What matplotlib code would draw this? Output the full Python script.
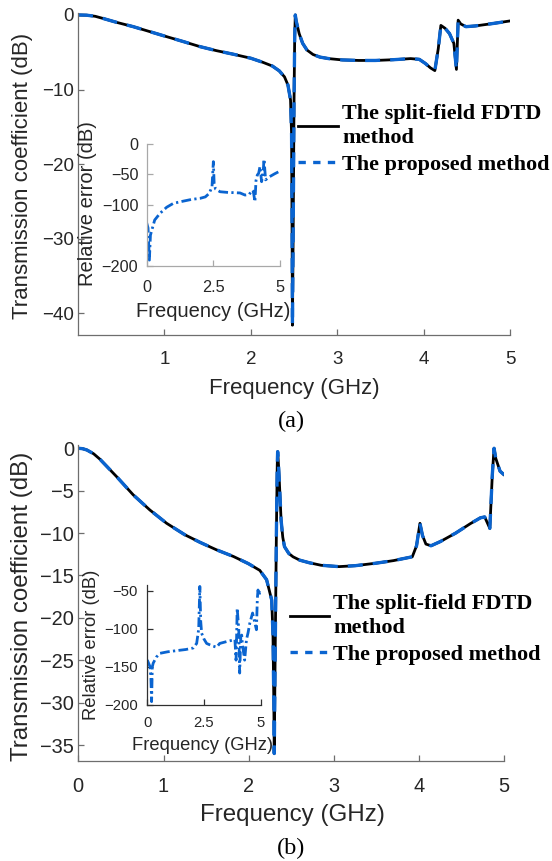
import numpy as np
import matplotlib.pyplot as plt
from matplotlib.font_manager import FontProperties

plt.rcParams['font.family'] = ['Liberation Sans', 'DejaVu Sans']

W, H = 552, 861

# ---- (a) transmission coefficient ----
freq_a = [0.0, 0.1, 0.2, 0.3, 0.45, 0.64, 0.83, 1.0, 1.22, 1.41, 1.6, 1.8, 2.0, 2.14,
          2.25, 2.33, 2.39, 2.43, 2.46, 2.472, 2.478, 2.482, 2.49, 2.5, 2.508, 2.515,
          2.525, 2.56, 2.6, 2.65, 2.72, 2.8, 2.9, 3.06, 3.25, 3.44, 3.65, 3.85, 3.95,
          4.02, 4.08, 4.13, 4.17, 4.2, 4.25, 4.3, 4.35, 4.38, 4.4, 4.43, 4.49, 4.6,
          4.8, 5.0]
fdtd_a = [0.0, -0.03, -0.18, -0.5, -1.0, -1.57, -2.23, -2.82, -3.57, -4.24, -4.78, -5.27,
          -5.8, -6.35, -6.85, -7.5, -8.3, -9.4, -11.4, -16.0, -30.0, -41.6, -30.0, -12.0,
          -3.0, 0.0, -0.8, -2.5, -3.8, -4.7, -5.3, -5.65, -5.85, -6.03, -6.1, -6.1, -6.0,
          -5.85, -5.95, -6.5, -7.1, -7.46, -4.5, -1.4, -1.8, -2.5, -3.8, -7.3, -0.7, -1.2,
          -1.57, -1.47, -1.15, -0.8]
prop_a = fdtd_a

# inset (a): relative error
err_freq_a = [0.0, 0.05, 0.1, 0.14, 0.19, 0.3, 0.5, 0.75, 1.0, 1.37, 1.7, 2.0, 2.2, 2.35,
              2.45, 2.5, 2.53, 2.58, 2.75, 3.0, 3.25, 3.5, 3.69, 3.85, 3.94, 4.0, 4.06,
              4.1, 4.15, 4.2, 4.25, 4.31, 4.37, 4.4, 4.46, 4.6, 4.8, 4.95]
err_a = [-130, -138, -191, -150, -142, -125, -114, -104, -97.6, -94, -91, -89.4, -87, -81,
         -70, -29, -65, -74, -78.5, -79.5, -80, -80.5, -84, -83, -76, -78, -95, -60, -51,
         -48, -37, -62, -45, -25, -59, -54, -49, -45.6]

# ---- (b) transmission coefficient ----
freq_b = [0.0, 0.05, 0.1, 0.18, 0.255, 0.35, 0.45, 0.645, 0.84, 1.037, 1.25, 1.43, 1.62,
          1.82, 1.995, 2.13, 2.21, 2.27, 2.285, 2.295, 2.30, 2.31, 2.325, 2.335, 2.34,
          2.35, 2.36, 2.38, 2.4, 2.42, 2.47, 2.52, 2.6, 2.71, 2.85, 3.06, 3.25, 3.49, 3.7,
          3.92, 3.97, 4.01, 4.04, 4.08, 4.14, 4.25, 4.43, 4.6, 4.72, 4.77, 4.81, 4.83,
          4.86, 4.88, 4.9, 4.92, 4.95, 5.0]
fdtd_b = [0.0, -0.05, -0.2, -0.65, -1.3, -2.3, -3.35, -5.5, -7.28, -8.85, -10.2, -11.1,
          -11.97, -12.76, -13.6, -14.4, -15.5, -17.9, -22.0, -30.0, -36.0, -25.0, -10.0,
          -2.0, -0.4, -2.0, -4.0, -8.45, -10.5, -11.6, -12.4, -12.8, -13.2, -13.5, -13.8,
          -13.96, -13.85, -13.56, -13.25, -12.8, -11.5, -8.85, -10.3, -11.3, -11.5, -11.0,
          -10.0, -8.9, -8.2, -8.1, -9.0, -9.45, -3.0, 0.0, -1.2, -1.8, -2.7, -3.15]
prop_b = fdtd_b

# inset (b): relative error
err_freq_b = [0.0, 0.12, 0.16, 0.19, 0.22, 0.26, 0.4, 0.56, 0.9, 1.29, 1.7, 2.03, 2.18, 2.27,
              2.32, 2.36, 2.4, 2.5, 2.62, 2.85, 3.06, 3.2, 3.5, 3.87, 3.92, 3.94, 3.97,
              4.04, 4.08, 4.13, 4.17, 4.2, 4.3, 4.38, 4.45, 4.53, 4.65, 4.82, 4.86, 4.89,
              4.93, 4.97, 5.0]
err_b = [-140.8, -149.6, -165, -195.6, -150, -145, -137, -132, -130, -128.5, -127, -125,
         -119, -100, -44, -90, -105.6, -113, -119, -122, -124, -119, -116.6, -114, -141,
         -118, -72.8, -100, -158, -110, -108, -120, -141, -114, -105, -92, -79, -101, -60,
         -48.7, -55, -52, -55]

labels = ['The split-field FDTD\nmethod', 'The proposed method']
blue = '#0a64d0'
txt = '#262626'


def box(x0, x1, y0, y1):
    # pixel box -> figure fraction
    return [x0 / W, 1 - y1 / H, (x1 - x0) / W, (y1 - y0) / H]


def px(x, y):
    return x / W, 1 - y / H


def style(ax, col, tsize, padx, pady):
    for s in ['top', 'right']:
        ax.spines[s].set_visible(False)
    for s in ['left', 'bottom']:
        ax.spines[s].set_color(col)
        ax.spines[s].set_linewidth(0.9)
    ax.tick_params(direction='in', length=4, width=0.9, color=col,
                   labelsize=tsize, labelcolor=txt)
    ax.tick_params(axis='x', pad=padx)
    ax.tick_params(axis='y', pad=pady)


def add_legend(ax, x, y, hl):
    # proxy handles: the legend shows a shorter dash than the curves
    h1 = plt.Line2D([], [], color='black', lw=2.0)
    h2 = plt.Line2D([], [], color=blue, lw=2.4, dashes=(2.2, 2.2))
    leg = ax.legend([h1, h2], labels, loc='upper left', bbox_to_anchor=px(x, y),
                    bbox_transform=fig.transFigure, frameon=False, prop=leg_font,
                    handlelength=hl, handletextpad=0.2, borderpad=0, borderaxespad=0,
                    labelspacing=0.28)
    for t in leg.get_texts():
        t.set_linespacing(1.28)
    return leg


fig = plt.figure(figsize=(W / 100, H / 100), dpi=100)
leg_font = FontProperties(family='Liberation Serif', weight='bold', size=16)

# ---------- panel (a) ----------
ax1 = fig.add_axes(box(78, 510, 13.1, 334.9))
ax1.plot(freq_a, fdtd_a, color='black', lw=2.0)
ax1.plot(freq_a, prop_a, color=blue, lw=2.4, dashes=(4.5, 3))
ax1.set_xlim(0, 5)
ax1.set_ylim(-42.9, 0.25)
ax1.set_xticks([1, 2, 3, 4, 5])
ax1.set_yticks([-40, -30, -20, -10, 0])
style(ax1, '#6e6e6e', 13.5, 11.5, 3)
fig.text(*px(22.5, 176), 'Transmission coefficient (dB)', rotation=90,
         ha='center', va='center', fontsize=16, color=txt)
fig.text(*px(294, 388), 'Frequency (GHz)', ha='center', va='center',
         fontsize=16, color=txt)
add_legend(ax1, 297.7, 104, 1.8)

ins1 = fig.add_axes(box(146.7, 280, 144, 265.6))
ins1.patch.set_alpha(0)
ins1.plot(err_freq_a, err_a, color=blue, lw=2.0, dashes=(3.5, 1.2, 0.8, 1.2))
ins1.set_xlim(0, 5)
ins1.set_ylim(-200, 0)
ins1.set_xticks([0, 2.5, 5])
ins1.set_xticklabels(['0', '2.5', '5'])
ins1.set_yticks([-200, -100, -50, 0])
style(ins1, '#a8a8a8', 11.7, 10.5, 6)
fig.text(*px(87.5, 204), 'Relative error (dB)', rotation=90,
         ha='center', va='center', fontsize=14.5, color=txt)
fig.text(*px(213, 311.7), 'Frequency (GHz)', ha='center', va='center',
         fontsize=14.5, color=txt)

fig.text(*px(291, 421), '(a)', ha='center', va='center', fontsize=17.5,
         family='Liberation Serif', color='black')

# ---------- panel (b) ----------
ax2 = fig.add_axes(box(78.3, 504.3, 445.3, 760.7))
ax2.plot(freq_b, fdtd_b, color='black', lw=2.0)
ax2.plot(freq_b, prop_b, color=blue, lw=2.4, dashes=(4.5, 3))
ax2.set_xlim(0, 5)
ax2.set_ylim(-36.85, 0.35)
ax2.set_xticks([0, 1, 2, 3, 4, 5])
ax2.set_yticks([-35, -30, -25, -20, -15, -10, -5, 0])
style(ax2, '#6e6e6e', 14.4, 11.5, 3)
fig.text(*px(22.5, 606), 'Transmission coefficient (dB)', rotation=90,
         ha='center', va='center', fontsize=17.4, color=txt)
fig.text(*px(292, 815), 'Frequency (GHz)', ha='center', va='center',
         fontsize=17.4, color=txt)
add_legend(ax2, 290, 594, 1.75)

ins2 = fig.add_axes(box(147.3, 260.5, 584.9, 705))
ins2.patch.set_alpha(0)
ins2.plot(err_freq_b, err_b, color=blue, lw=2.0, dashes=(3.5, 1.2, 0.8, 1.2))
ins2.set_xlim(0, 5)
ins2.set_ylim(-200, -42)
ins2.set_xticks([0, 2.5, 5])
ins2.set_xticklabels(['0', '2.5', '5'])
ins2.set_yticks([-200, -150, -100, -50])
style(ins2, '#303030', 10.7, 8, 7)
fig.text(*px(92, 645), 'Relative error (dB)', rotation=90,
         ha='center', va='center', fontsize=13.2, color=txt)
fig.text(*px(203, 745), 'Frequency (GHz)', ha='center', va='center',
         fontsize=13.2, color=txt)

fig.text(*px(291, 848), '(b)', ha='center', va='center', fontsize=17.5,
         family='Liberation Serif', color='black')

fig.savefig('out.png', dpi=100)
